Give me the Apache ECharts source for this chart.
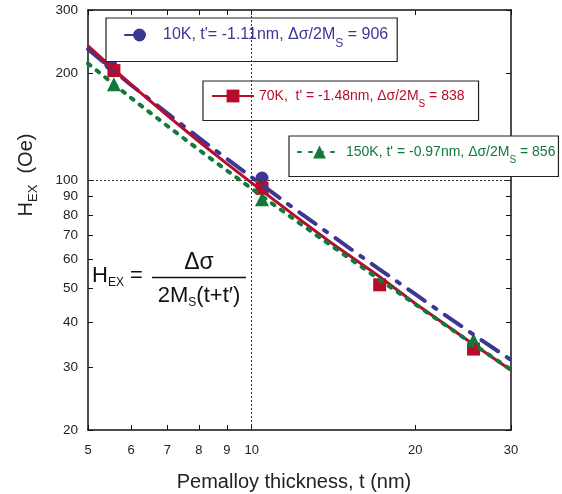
<!DOCTYPE html>
<html>
<head>
<meta charset="utf-8">
<script src="https://cdn.jsdelivr.net/npm/echarts@6/dist/echarts.min.js"></script>
<style>
html, body { margin: 0; padding: 0; background: #fff; }
#hex_chart { width: 562px; height: 494px; }
</style>
</head>
<body>
<div id="hex_chart"></div>
<script>
var series_names = ['10K', '70K', '150K'];
var series_colors = ['#3b3894', '#b80c2c', '#11793a'];

// fitted curves
var fit_thickness = [5, 6, 7, 8, 9, 10, 12, 14, 17, 20, 25, 30];
var fit_10k = [233, 185, 154, 131.5, 115, 102, 83.2, 70.3, 57, 48, 37.9, 31.4];
var fit_70k = [238, 185.4, 151.8, 128.5, 111.4, 98.4, 79.7, 66.9, 54.4, 45.2, 35.6, 29.4];
var fit_150k = [212.4, 170.2, 142, 121.8, 106.6, 94.8, 77.6, 65.7, 53.4, 45, 35.6, 29.5];

// measured points
var point_t_10k = [5.5, 10.45];
var point_h_10k = [212, 101.5];
var point_t_70k = [5.58, 10.45, 17.2, 25.6];
var point_h_70k = [203, 95, 51, 33.7];
var point_t_150k = [5.58, 10.45, 25.6];
var point_h_150k = [186, 88.6, 35.7];

var x_ticks = [5, 6, 7, 8, 9, 10, 20, 30];
var y_ticks = [20, 30, 40, 50, 60, 70, 80, 90, 100, 200, 300];

var legend_text = [
	"{b|10K, t'= -1.11nm, \u0394\u03c3/2M}{s|S}{a| = 906}",
	"{b|70K,  t' = -1.48nm, \u0394\u03c3/2M}{s|S}{a| = 838}",
	"{b|150K, t' = -0.97nm, \u0394\u03c3/2M}{s|S}{a| = 856}"
];

var font_name = 'Liberation Sans, Arial, sans-serif';

function pair_up(xs, ys){
	var out = new Array();
	for(var i = 0; i < xs.length; i++){
		out.push([xs[i], ys[i]]);
	}
	return out;
}

function make_x_axis(pos, show_label){
	return {
		type: 'log',
		logBase: 10,
		min: 5,
		max: 30,
		position: pos,
		name: show_label ? 'Pemalloy thickness, t (nm)' : '',
		nameLocation: 'middle',
		nameGap: 42,
		nameTextStyle: { fontSize: 20, color: '#222', fontFamily: font_name, padding: [0, 11, 0, 0] },
		axisLine: { show: true, lineStyle: { color: '#111', width: 1.5 } },
		axisTick: { show: true, inside: true, length: 5, customValues: x_ticks, lineStyle: { color: '#111', width: 1 } },
		axisLabel: { show: show_label, customValues: x_ticks, margin: 14, fontSize: 13, color: '#222', fontFamily: font_name },
		splitLine: { show: false },
		minorTick: { show: false }
	};
}

function make_y_axis(pos, show_label){
	return {
		type: 'log',
		logBase: 10,
		min: 20,
		max: 300,
		position: pos,
		axisLine: { show: true, lineStyle: { color: '#111', width: 1.5 } },
		axisTick: { show: true, inside: true, length: 5, customValues: y_ticks, lineStyle: { color: '#111', width: 1 } },
		axisLabel: { show: show_label, customValues: y_ticks, margin: 10, fontSize: 13.5, color: '#222', fontFamily: font_name },
		splitLine: { show: false },
		minorTick: { show: false }
	};
}

function make_legend(i, left, top, item_width, padding, gap_left, size){
	var c = series_colors[i];
	return {
		data: [series_names[i]],
		left: left,
		top: top,
		selectedMode: false,
		itemWidth: item_width,
		itemHeight: 16,
		padding: padding,
		borderColor: '#222',
		borderWidth: 1.2,
		borderRadius: 0,
		backgroundColor: '#fff',
		formatter: function(){ return legend_text[i]; },
		textStyle: {
			color: c,
			fontFamily: font_name,
			fontSize: size,
			rich: {
				b: { color: c, fontSize: size, fontFamily: font_name, padding: [0, 0, 0, gap_left] },
				a: { color: c, fontSize: size, fontFamily: font_name },
				s: { color: c, fontSize: size - 4, fontFamily: font_name, padding: [17, 0, 0, 0] }
			}
		}
	};
}

function draw_chart(){
	var hex_chart = echarts.init(document.getElementById('hex_chart'));
	var option = {
		animation: false,
		backgroundColor: '#fff',
		grid: { left: 88, right: 51, top: 10, bottom: 64, outerBoundsMode: 'none' },
		xAxis: [make_x_axis('bottom', true), make_x_axis('top', false)],
		yAxis: [make_y_axis('left', true), make_y_axis('right', false)],
		legend: [
			make_legend(0, 106, 18, 29, [9, 9, 12, 18], 4, 16),
			make_legend(1, 203, 81, 42, [8, 14, 11, 8], 0, 14),
			make_legend(2, 289, 136, 43, [9, 3, 11, 8], 0, 14)
		],
		graphic: [
			{
				type: 'text', x: 26, y: 175, rotation: Math.PI / 2,
				style: {
					text: '{h|H}{s|EX}{h|  (Oe)}',
					align: 'center', verticalAlign: 'middle',
					rich: {
						h: { fontSize: 20, fill: '#222', fontFamily: font_name },
						s: { fontSize: 13, fill: '#222', fontFamily: font_name, padding: [14, 0, 0, 0] }
					}
				}
			},
			{
				type: 'text', x: 92, y: 276,
				style: {
					text: '{h|H}{s|EX}{h| =}',
					align: 'left', verticalAlign: 'middle',
					rich: {
						h: { fontSize: 22, fill: '#111', fontFamily: font_name },
						s: { fontSize: 12, fill: '#111', fontFamily: font_name, padding: [14, 0, 0, 0] }
					}
				}
			},
			{
				type: 'line',
				shape: { x1: 152, y1: 277.5, x2: 246, y2: 277.5 },
				style: { stroke: '#111', lineWidth: 1.4 }
			},
			{
				type: 'text', x: 199, y: 263,
				style: { text: '\u0394\u03c3', align: 'center', verticalAlign: 'middle', fontSize: 23, fill: '#111', fontFamily: font_name }
			},
			{
				type: 'text', x: 199, y: 296,
				style: {
					text: '{h|2M}{s|S}{h|(t+t\u2032)}',
					align: 'center', verticalAlign: 'middle',
					rich: {
						h: { fontSize: 22, fill: '#111', fontFamily: font_name },
						s: { fontSize: 12, fill: '#111', fontFamily: font_name, padding: [14, 0, 0, 0] }
					}
				}
			}
		],
		series: [
			{
				name: '10K', type: 'line', data: pair_up(fit_thickness, fit_10k),
				showSymbol: false, symbol: 'circle', symbolSize: 13,
				lineStyle: { color: series_colors[0], width: 4, type: [20, 10.5, 3.5, 10.5], cap: 'round' },
				itemStyle: { color: series_colors[0], opacity: 1 },
				markLine: {
					silent: true, symbol: ['none', 'none'], label: { show: false },
					lineStyle: { color: '#333', width: 1, type: [2, 2] },
					data: [{ xAxis: 10 }, { yAxis: 100 }]
				}
			},
			{
				name: '10K', type: 'scatter', data: pair_up(point_t_10k, point_h_10k),
				symbol: 'circle', symbolSize: 13, itemStyle: { color: series_colors[0], opacity: 1 }
			},
			{
				name: '70K', type: 'line', data: pair_up(fit_thickness, fit_70k),
				showSymbol: false, symbol: 'rect', symbolSize: 13,
				lineStyle: { color: series_colors[1], width: 3 },
				itemStyle: { color: series_colors[1], opacity: 1 }
			},
			{
				name: '70K', type: 'scatter', data: pair_up(point_t_70k, point_h_70k),
				symbol: 'rect', symbolSize: 13, itemStyle: { color: series_colors[1], opacity: 1 }
			},
			{
				name: '150K', type: 'line', data: pair_up(fit_thickness, fit_150k),
				showSymbol: false, symbol: 'triangle', symbolSize: 14,
				lineStyle: { color: series_colors[2], width: 4, type: [3, 8], cap: 'round' },
				itemStyle: { color: series_colors[2], opacity: 1 }
			},
			{
				name: '150K', type: 'scatter', data: pair_up(point_t_150k, point_h_150k),
				symbol: 'triangle', symbolSize: 14, itemStyle: { color: series_colors[2], opacity: 1 }
			}
		]
	};
	hex_chart.setOption(option);
}

draw_chart();
</script>
</body>
</html>
